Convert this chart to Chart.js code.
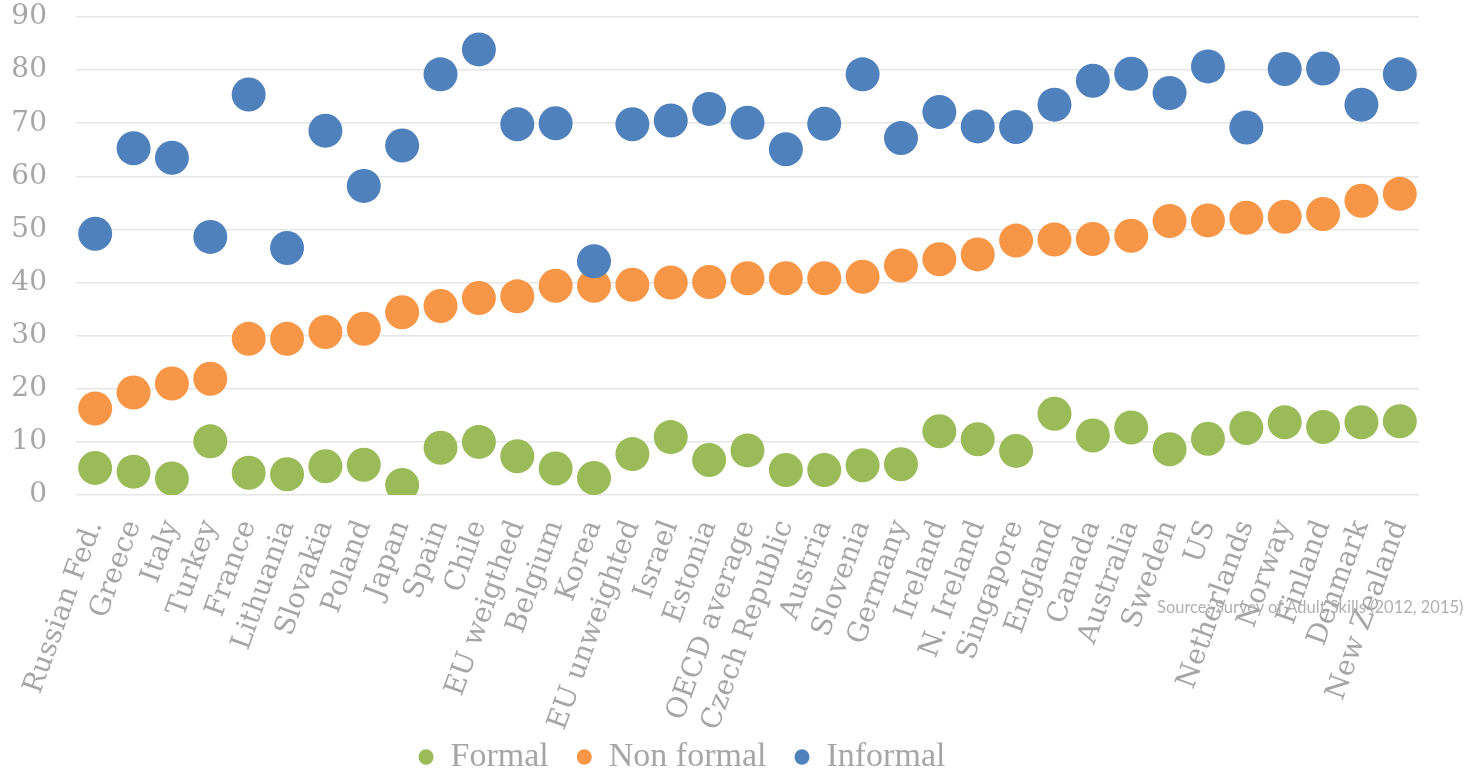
<!DOCTYPE html>
<html>
<head>
<meta charset="utf-8">
<script src="https://cdn.jsdelivr.net/npm/chart.js@4.4.1/dist/chart.umd.min.js"></script>
<style>
  html, body { margin: 0; padding: 0; background: #ffffff; }
  #wrap { position: relative; width: 1472px; height: 771px; }
  #source { position: absolute; left: 1157px; top: 597px; font-family: Lato, "Liberation Sans", sans-serif; font-size: 16.5px; color: #b0b0b0; white-space: nowrap; }
</style>
</head>
<body>
<div id="wrap">
  <canvas id="c" width="1472" height="771"></canvas>
  <div id="source">Source: Survey of Adult Skills (2012, 2015)</div>
</div>
<script>
const categories = ["Russian Fed.", "Greece", "Italy", "Turkey", "France", "Lithuania", "Slovakia", "Poland", "Japan", "Spain", "Chile", "EU weigthed", "Belgium", "Korea", "EU unweighted", "Israel", "Estonia", "OECD average", "Czech Republic", "Austria", "Slovenia", "Germany", "Ireland", "N. Ireland", "Singapore", "England", "Canada", "Australia", "Sweden", "US", "Netherlands", "Norway", "Finland", "Denmark", "New Zealand"];

const formal = [5.1, 4.4, 3.1, 10.1, 4.2, 3.9, 5.4, 5.7, 1.9, 8.9, 10.0, 7.3, 5.0, 3.2, 7.7, 10.9, 6.6, 8.4, 4.7, 4.7, 5.6, 5.8, 12.0, 10.5, 8.3, 15.3, 11.2, 12.7, 8.6, 10.6, 12.6, 13.7, 12.8, 13.7, 13.9];

const nonFormal = [16.3, 19.3, 21.0, 21.9, 29.4, 29.4, 30.7, 31.3, 34.4, 35.6, 37.1, 37.4, 39.4, 39.4, 39.6, 40.0, 40.1, 40.8, 40.8, 40.8, 41.1, 43.2, 44.4, 45.3, 47.9, 48.1, 48.2, 48.8, 51.6, 51.7, 52.2, 52.4, 52.9, 55.4, 56.7];

const informal = [49.2, 65.3, 63.5, 48.6, 75.4, 46.5, 68.6, 58.2, 65.8, 79.2, 83.9, 69.8, 70.0, 44.0, 69.8, 70.5, 72.7, 70.1, 65.1, 69.9, 79.2, 67.2, 72.1, 69.4, 69.3, 73.5, 78.0, 79.3, 75.7, 80.7, 69.2, 80.2, 80.3, 73.5, 79.2];

const yTicks = [0, 10, 20, 30, 40, 50, 60, 70, 80, 90];

const GREEN = "#9bbb59", ORANGE = "#f79646", BLUE = "#4f81bd";
const GRAY = "#a6a6a6";
const FONT = "'DejaVu Serif', 'Liberation Serif', serif";
const LEGEND_FONT = "'Liberation Serif', 'DejaVu Serif', serif";
const LEGEND_PAD = 28;
const LEGEND_SIZE = 34;

function ds(label, data, color, order) {
  return {
    label, data, order,
    showLine: false,
    backgroundColor: color,
    borderColor: color,
    pointBackgroundColor: color,
    pointBorderColor: color,
    pointBorderWidth: 0,
    pointRadius: 17,
    pointHoverRadius: 17,
    pointStyle: 'circle'
  };
}

// move the legend to its place below the rotated labels and let the labels use the full height
const placeLegend = {
  id: 'placeLegend',
  afterLayout(chart) {
    const lg = chart.legend;
    const h = lg.bottom - lg.top;
    lg.top = 757 - LEGEND_PAD - LEGEND_SIZE / 2;
    lg.bottom = lg.top + h;
    lg.left -= 33;
    lg.right -= 33;
    chart.scales.x.bottom = chart.height;
  }
};

new Chart(document.getElementById('c'), {
  type: 'line',
  data: {
    labels: categories,
    datasets: [
      ds("Formal", formal, GREEN, 2),
      ds("Non formal", nonFormal, ORANGE, 1),
      ds("Informal", informal, BLUE, 0)
    ]
  },
  plugins: [placeLegend],
  options: {
    responsive: false,
    animation: false,
    layout: { padding: { left: 11, right: 53, top: 16, bottom: 0 } },
    plugins: {
      tooltip: { enabled: false },
      legend: {
        position: 'bottom',
        labels: {
          usePointStyle: true,
          pointStyle: 'circle',
          boxHeight: 11,
          pointStyleWidth: 15,
          padding: LEGEND_PAD,
          color: GRAY,
          font: { family: LEGEND_FONT, size: LEGEND_SIZE },
          sort: (a, b) => a.datasetIndex - b.datasetIndex
        }
      }
    },
    scales: {
      x: {
        type: 'category',
        offset: true,
        grid: { display: false, drawTicks: false },
        border: { display: false },
        ticks: {
          autoSkip: false,
          maxRotation: 70,
          minRotation: 70,
          padding: 21,
          color: GRAY,
          font: { family: FONT, size: 28 }
        },
        afterFit: (scale) => { scale.height = 204; scale.paddingLeft = 0; scale.paddingRight = 0; }
      },
      y: {
        min: 0,
        max: 90,
        afterBuildTicks: (scale) => { scale.ticks = yTicks.map(v => ({ value: v })); },
        grid: { color: "#e6e6e6", lineWidth: 1.5, drawTicks: false },
        border: { display: false },
        ticks: {
          padding: 29,
          color: GRAY,
          font: { family: FONT, size: 28 }
        },
        afterFit: (scale) => { scale.width = 65; scale.paddingTop = 0; scale.paddingBottom = 0; }
      }
    }
  }
});
</script>
</body>
</html>
